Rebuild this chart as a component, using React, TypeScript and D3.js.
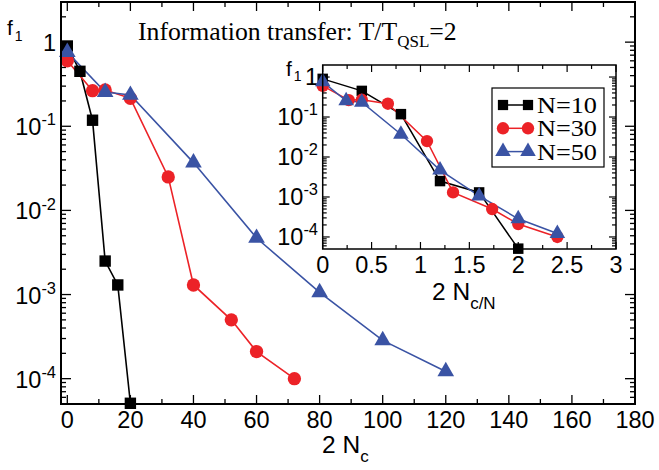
import React, { useEffect, useRef } from "react";
import * as d3 from "d3";

// 2 N_c values and f_1 values for each N
const n10x = [0, 4, 8, 12, 16, 20];
const n10y = [0.9, 0.45, 0.118, 2.5e-3, 1.3e-3, 5.1e-5];
const n30x = [0, 8, 12, 20, 32, 40, 52, 60, 72];
const n30y = [0.6, 0.265, 0.27, 0.215, 0.025, 1.3e-3, 5e-4, 2.1e-4, 1e-4];
const n50x = [0, 12, 20, 40, 60, 80, 100, 120];
const n50y = [0.76, 0.255, 0.235, 0.037, 4.7e-3, 1.06e-3, 2.85e-4, 1.22e-4];

const seriesN = [10, 30, 50];
const seriesNames = ["N=10", "N=30", "N=50"];
const colors = ["#000000", "#ec2227", "#3a53a4"];
const symbols = [d3.symbolSquare, d3.symbolCircle, d3.symbolTriangle];

const mainXTicks = [0, 20, 40, 60, 80, 100, 120, 140, 160, 180];
const insetXTicks = [0, 0.5, 1, 1.5, 2, 2.5, 3];
const mainYTicks = [1, 1e-1, 1e-2, 1e-3, 1e-4];
const insetYTicks = [1, 1e-1, 1e-2, 1e-3, 1e-4];

const sans = "'Liberation Sans', Arial, sans-serif";
const serif = "'Liberation Serif', 'Times New Roman', serif";

function logMinors(lo: number, hi: number) {
  const out: number[] = [];
  for (let e = -6; e <= 1; e++) {
    for (let m = 2; m <= 9; m++) {
      const v = m * Math.pow(10, e);
      if (v > lo && v < hi) out.push(v);
    }
  }
  return out;
}

function logLabel(g: any, v: number, x: number, y: number, size: number) {
  const t = g
    .append("text")
    .attr("x", x)
    .attr("y", y)
    .attr("text-anchor", "end")
    .attr("font-family", sans)
    .attr("font-size", size);
  if (v === 1) {
    t.text("1");
  } else {
    const e = Math.round(Math.log10(v));
    t.append("tspan").text("10");
    t.append("tspan")
      .attr("font-size", size * 0.7)
      .attr("dy", -size * 0.42)
      .text(String(e));
  }
}

export default function App() {
  const ref = useRef<SVGSVGElement>(null);

  useEffect(() => {
    const svg = d3.select(ref.current);
    svg.selectAll("*").remove();

    const data = [
      n10x.map((x, i) => [x, n10y[i]]),
      n30x.map((x, i) => [x, n30y[i]]),
      n50x.map((x, i) => [x, n50y[i]]),
    ];

    // ---- main plot ----
    const L = 61, R = 635, T = 2, B = 404;
    const x = d3.scaleLinear().domain([-2, 180]).range([L, R]);
    const y = d3.scaleLog().domain([5e-5, 3]).range([B, T]);

    const main = svg.append("g");
    const ticks = main.append("g").attr("stroke", "#000").attr("stroke-width", 1.3);
    d3.range(0, 181, 10).forEach((v) => {
      const len = v % 20 === 0 ? 9 : 5;
      ticks.append("line").attr("x1", x(v)).attr("x2", x(v)).attr("y1", B).attr("y2", B - len);
      ticks.append("line").attr("x1", x(v)).attr("x2", x(v)).attr("y1", T).attr("y2", T + len);
    });
    mainYTicks.forEach((v) => {
      ticks.append("line").attr("x1", L).attr("x2", L + 10).attr("y1", y(v)).attr("y2", y(v));
      ticks.append("line").attr("x1", R).attr("x2", R - 10).attr("y1", y(v)).attr("y2", y(v));
    });
    logMinors(5e-5, 3).forEach((v) => {
      ticks.append("line").attr("x1", L).attr("x2", L + 5).attr("y1", y(v)).attr("y2", y(v));
      ticks.append("line").attr("x1", R).attr("x2", R - 5).attr("y1", y(v)).attr("y2", y(v));
    });

    mainXTicks.forEach((v) => {
      main
        .append("text")
        .attr("x", x(v))
        .attr("y", 428)
        .attr("text-anchor", "middle")
        .attr("font-family", sans)
        .attr("font-size", 23.5)
        .text(v);
    });
    mainYTicks.forEach((v) => logLabel(main, v, 56, y(v) + 9, 23.5));

    const line = d3
      .line<number[]>()
      .x((d) => x(d[0]))
      .y((d) => y(d[1]));

    data.forEach((s, i) => {
      main
        .append("path")
        .datum(s)
        .attr("fill", "none")
        .attr("stroke", colors[i])
        .attr("stroke-width", 1.6)
        .attr("d", line);
    });
    data.forEach((s, i) => {
      const size = i === 0 ? 130 : i === 1 ? 140 : 120;
      main
        .selectAll(null)
        .data(s)
        .enter()
        .append("path")
        .attr("transform", (d) => `translate(${x(d[0])},${y(d[1])})`)
        .attr("d", d3.symbol().type(symbols[i]).size(size)())
        .attr("fill", colors[i]);
    });

    main
      .append("rect")
      .attr("x", L)
      .attr("y", T)
      .attr("width", R - L)
      .attr("height", B - T)
      .attr("fill", "none")
      .attr("stroke", "#000")
      .attr("stroke-width", 2);

    // axis labels
    const fl = main.append("text").attr("x", 7).attr("y", 35).attr("font-family", sans).attr("font-size", 21);
    fl.append("tspan").text("f");
    fl.append("tspan").attr("font-size", 14).attr("dy", 6).attr("dx", 2).text("1");

    const xl = main.append("text").attr("x", 322).attr("y", 453).attr("font-family", sans).attr("font-size", 24.5);
    xl.append("tspan").text("2 N");
    xl.append("tspan").attr("font-size", 17).attr("dy", 9).text("c");

    const title = main
      .append("text")
      .attr("x", 138)
      .attr("y", 40)
      .attr("font-family", serif)
      .attr("font-size", 25.7);
    title.append("tspan").text("Information transfer: T/T");
    title.append("tspan").attr("font-size", 17).attr("dy", 7).text("QSL");
    title.append("tspan").attr("dy", -7).text("=2");

    // ---- inset ----
    const iL = 322.7, iR = 616, iT = 65, iB = 249;
    const ix = d3.scaleLinear().domain([0, 3]).range([iL, iR]);
    const iy = d3.scaleLog().domain([5e-5, 2]).range([iB, iT]);
    const inset = svg.append("g");
    inset
      .append("rect")
      .attr("x", iL)
      .attr("y", iT)
      .attr("width", iR - iL)
      .attr("height", iB - iT)
      .attr("fill", "#fff");

    const iticks = inset.append("g").attr("stroke", "#000").attr("stroke-width", 1.2);
    d3.range(0, 3.01, 0.25).forEach((v) => {
      const len = Math.abs(v * 2 - Math.round(v * 2)) < 1e-6 ? 7 : 4;
      iticks.append("line").attr("x1", ix(v)).attr("x2", ix(v)).attr("y1", iB).attr("y2", iB - len);
      iticks.append("line").attr("x1", ix(v)).attr("x2", ix(v)).attr("y1", iT).attr("y2", iT + len);
    });
    insetYTicks.forEach((v) => {
      iticks.append("line").attr("x1", iL).attr("x2", iL + 7).attr("y1", iy(v)).attr("y2", iy(v));
      iticks.append("line").attr("x1", iR).attr("x2", iR - 7).attr("y1", iy(v)).attr("y2", iy(v));
    });
    logMinors(5e-5, 2).forEach((v) => {
      iticks.append("line").attr("x1", iL).attr("x2", iL + 4).attr("y1", iy(v)).attr("y2", iy(v));
      iticks.append("line").attr("x1", iR).attr("x2", iR - 4).attr("y1", iy(v)).attr("y2", iy(v));
    });

    insetXTicks.forEach((v) => {
      inset
        .append("text")
        .attr("x", ix(v))
        .attr("y", 273)
        .attr("text-anchor", "middle")
        .attr("font-family", sans)
        .attr("font-size", 23.5)
        .text(v);
    });
    insetYTicks.forEach((v) => logLabel(inset, v, 318, iy(v) + 8, 23.5));

    const iline = d3
      .line<number[]>()
      .x((d) => ix(d[0]))
      .y((d) => iy(d[1]));

    data.forEach((s, i) => {
      const sc = s.map((d) => [d[0] / seriesN[i], d[1]]);
      inset
        .append("path")
        .datum(sc)
        .attr("fill", "none")
        .attr("stroke", colors[i])
        .attr("stroke-width", 1.5)
        .attr("d", iline);
    });
    data.forEach((s, i) => {
      const size = i === 0 ? 110 : i === 1 ? 120 : 105;
      inset
        .selectAll(null)
        .data(s.map((d) => [d[0] / seriesN[i], d[1]]))
        .enter()
        .append("path")
        .attr("transform", (d) => `translate(${ix(d[0])},${iy(d[1])})`)
        .attr("d", d3.symbol().type(symbols[i]).size(size)())
        .attr("fill", colors[i]);
    });

    inset
      .append("rect")
      .attr("x", iL)
      .attr("y", iT)
      .attr("width", iR - iL)
      .attr("height", iB - iT)
      .attr("fill", "none")
      .attr("stroke", "#000")
      .attr("stroke-width", 1.5);

    const ifl = inset.append("text").attr("x", 286).attr("y", 76).attr("font-family", sans).attr("font-size", 21);
    ifl.append("tspan").text("f");
    ifl.append("tspan").attr("font-size", 14).attr("dy", 5).attr("dx", 2).text("1");

    const ixl = inset.append("text").attr("x", 432).attr("y", 300).attr("font-family", sans).attr("font-size", 24.5);
    ixl.append("tspan").text("2 N");
    ixl.append("tspan").attr("font-size", 17).attr("dy", 9).text("c/N");

    // legend
    const lg = inset.append("g");
    lg.append("rect")
      .attr("x", 492)
      .attr("y", 88)
      .attr("width", 112)
      .attr("height", 79)
      .attr("fill", "#fff")
      .attr("stroke", "#000")
      .attr("stroke-width", 1.2);
    seriesNames.forEach((name, i) => {
      const ly = 105 + i * 23.3;
      lg.append("line")
        .attr("x1", 503)
        .attr("x2", 528)
        .attr("y1", ly)
        .attr("y2", ly)
        .attr("stroke", colors[i])
        .attr("stroke-width", 1.5);
      [503, 528].forEach((lx) => {
        lg.append("path")
          .attr("transform", `translate(${lx},${ly})`)
          .attr("d", d3.symbol().type(symbols[i]).size(i === 1 ? 120 : 105)())
          .attr("fill", colors[i]);
      });
      lg.append("text")
        .attr("x", 537)
        .attr("y", ly + 8)
        .attr("font-family", serif)
        .attr("font-size", 23)
        .attr("textLength", 60)
        .attr("lengthAdjust", "spacingAndGlyphs")
        .text(name);
    });
  }, []);

  return (
    <svg
      ref={ref}
      width={659}
      height={470}
      style={{ position: "absolute", left: 0, top: 0, background: "#fff" }}
    />
  );
}
